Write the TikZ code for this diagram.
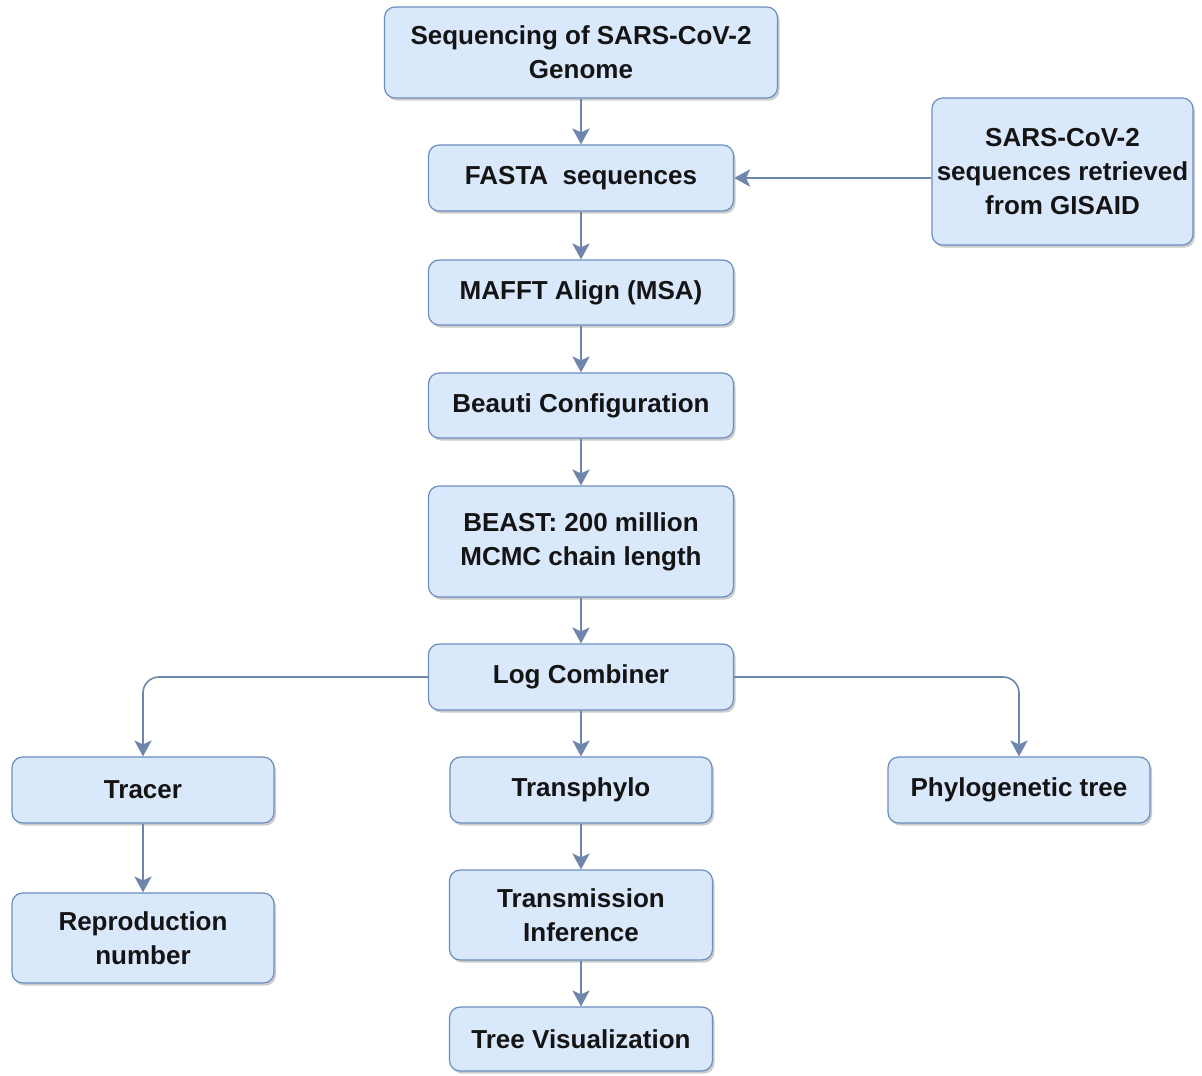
\documentclass[tikz,border=0pt]{standalone}
\usepackage{fontspec}
\setmainfont{Liberation Sans}
\usetikzlibrary{arrows.meta,shadows}
\definecolor{boxfill}{HTML}{DAE8FC}
\definecolor{boxline}{HTML}{6C8EBF}
\definecolor{arrcol}{HTML}{6E86AC}
\tikzset{
  box/.style={draw=boxline, line width=0.9pt, fill=boxfill, rounded corners=8pt,
    align=center, inner sep=0pt, font=\fontsize{19.5pt}{25.5pt}\selectfont\bfseries,
    text=black!92,
    drop shadow={shadow xshift=1.5pt, shadow yshift=-2pt, opacity=0.4, fill=gray}},
  arr/.style={draw=arrcol, line width=1.2pt,
    -{Stealth[length=12pt,width=13pt,inset=3pt]}}
}
\begin{document}
\begin{tikzpicture}[x=0.75pt,y=-0.75pt]
\useasboundingbox (0,0) rectangle (1202,1075);
\node[box, minimum width=294.75pt, minimum height=68.25pt] (seq) at (581,52.5) {Sequencing of SARS-CoV-2\\Genome};
\node[box, minimum width=228.75pt, minimum height=49.5pt] (fasta) at (581,178) {FASTA\ \ sequences};
\node[box, minimum width=195.75pt, minimum height=110.25pt] (gis) at (1062.5,171.5) {SARS-CoV-2\\sequences retrieved\\from GISAID};
\node[box, minimum width=228.75pt, minimum height=48.75pt] (mafft) at (581,292.5) {MAFFT Align (MSA)};
\node[box, minimum width=228.75pt, minimum height=48.75pt] (beauti) at (581,405.5) {Beauti Configuration};
\node[box, minimum width=228.75pt, minimum height=83.25pt] (beast) at (581,541.5) {BEAST: 200 million\\MCMC chain length};
\node[box, minimum width=228.75pt, minimum height=49.5pt] (log) at (581,677) {Log Combiner};
\node[box, minimum width=196.5pt, minimum height=49.5pt] (tracer) at (143,790) {Tracer};
\node[box, minimum width=196.5pt, minimum height=49.5pt] (trans) at (581,790) {Transphylo};
\node[box, minimum width=196.5pt, minimum height=49.5pt] (phylo) at (1019,790) {Phylogenetic tree};
\node[box, minimum width=196.5pt, minimum height=67.5pt] (repro) at (143,938) {Reproduction\\number};
\node[box, minimum width=197.25pt, minimum height=67.5pt] (infer) at (581,915) {Transmission\\Inference};
\node[box, minimum width=197.25pt, minimum height=48pt] (vis) at (581,1039) {Tree Visualization};
\draw[arr] (seq) -- (fasta);
\draw[arr] (gis.west |- fasta.east) -- (fasta.east);
\draw[arr] (fasta) -- (mafft);
\draw[arr] (mafft) -- (beauti);
\draw[arr] (beauti) -- (beast);
\draw[arr] (beast) -- (log);
\draw[arr, rounded corners=12pt] (log.west) -| (tracer.north);
\draw[arr, rounded corners=12pt] (log.east) -| (phylo.north);
\draw[arr] (log) -- (trans);
\draw[arr] (tracer) -- (repro);
\draw[arr] (trans) -- (infer);
\draw[arr] (infer) -- (vis);
\end{tikzpicture}
\end{document}
